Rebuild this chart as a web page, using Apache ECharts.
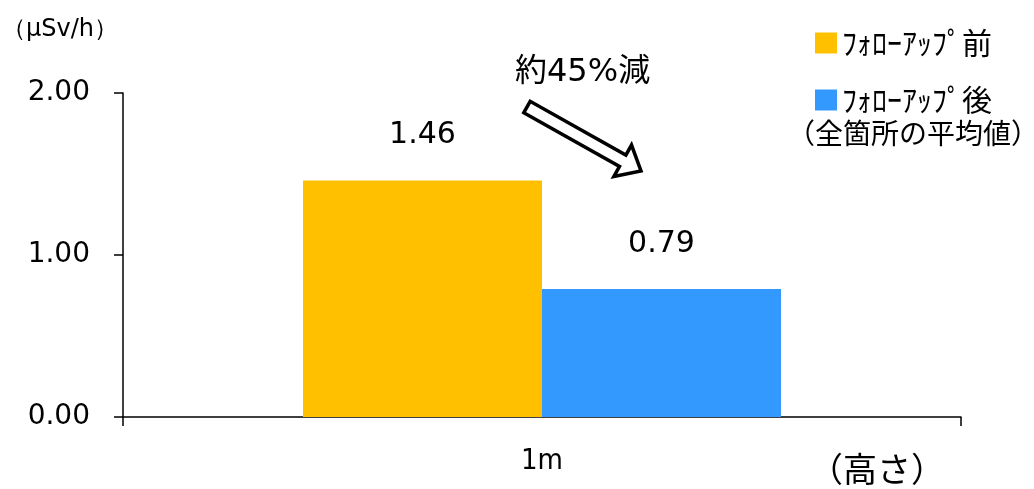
<!DOCTYPE html>
<html>
<head>
<meta charset="utf-8">
<script src="https://cdn.jsdelivr.net/npm/echarts@6/dist/echarts.min.js"></script>
<style>
html,body{margin:0;padding:0;background:#fff;}
#chart{width:1034px;height:489px;}
</style>
</head>
<body>
<div id="chart"></div>
<script>
const categories = ['1m'];
const seriesNames = ['ﾌｫﾛｰｱｯﾌﾟ前', 'ﾌｫﾛｰｱｯﾌﾟ後'];
const beforeValues = [1.46];
const afterValues = [0.79];
const yTicks = [0, 1, 2];

const chart = echarts.init(document.getElementById('chart'));
const numFont = '"DejaVu Sans", Verdana, sans-serif';
const jpFont = '"Noto Sans CJK JP", sans-serif';
const mixFont = '"DejaVu Sans", "Noto Sans CJK JP", sans-serif';
const narrowFont = '"Liberation Sans Narrow", "DejaVu Sans Condensed", sans-serif';

function arrowPoints(s, e, w, hw, hl) {
  const dx = e[0] - s[0], dy = e[1] - s[1];
  const len = Math.sqrt(dx * dx + dy * dy);
  const ux = dx / len, uy = dy / len;
  const nx = -uy, ny = ux;
  const neck = [e[0] - ux * hl, e[1] - uy * hl];
  return [
    [s[0] + nx * w, s[1] + ny * w],
    [neck[0] + nx * w, neck[1] + ny * w],
    [neck[0] + nx * hw, neck[1] + ny * hw],
    [e[0], e[1]],
    [neck[0] - nx * hw, neck[1] - ny * hw],
    [neck[0] - nx * w, neck[1] - ny * w],
    [s[0] - nx * w, s[1] - ny * w]
  ];
}

const option = {
  animation: false,
  backgroundColor: '#fff',
  grid: { left: 123, right: 73, top: 93, bottom: 72 },
  legend: {
    orient: 'vertical',
    left: 815, top: 28, padding: 0,
    itemWidth: 22, itemHeight: 21, itemGap: 27,
    icon: 'rect',
    textStyle: { fontFamily: jpFont, fontSize: 30, color: '#000', padding: [0, 0, 0, 0] },
    data: seriesNames
  },
  xAxis: {
    type: 'category',
    data: categories,
    axisLine: { lineStyle: { color: '#000', width: 1.5 } },
    axisTick: { show: true, length: 9, lineStyle: { color: '#000', width: 1.5 } },
    axisLabel: { margin: 30, fontFamily: narrowFont, fontSize: 29, color: '#000' }
  },
  yAxis: {
    type: 'value',
    min: 0, max: 2, interval: 1,
    axisLine: { show: true, lineStyle: { color: '#000', width: 1.5 } },
    axisTick: { show: true, length: 9, lineStyle: { color: '#000', width: 1.5 } },
    splitLine: { show: false },
    axisLabel: {
      margin: 33, fontFamily: numFont, fontSize: 28, color: '#000',
      formatter: v => yTicks.indexOf(v) >= 0 ? v.toFixed(2) : ''
    }
  },
  series: [
    {
      name: seriesNames[0], type: 'bar', data: beforeValues,
      barWidth: 239, barGap: '0%',
      itemStyle: { color: '#FFC000' },
      label: { show: true, position: 'top', distance: 30, fontFamily: numFont, fontSize: 30, color: '#000', formatter: p => p.value.toFixed(2) }
    },
    {
      name: seriesNames[1], type: 'bar', data: afterValues,
      barWidth: 239, barGap: '0%',
      itemStyle: { color: '#3399FF' },
      label: { show: true, position: 'top', distance: 30, fontFamily: numFont, fontSize: 30, color: '#000', formatter: p => p.value.toFixed(2) }
    }
  ],
  graphic: [
    { type: 'text', left: 2, top: 18, style: { text: '（μSv/h）', font: '24px ' + numFont, fill: '#000' } },
    { type: 'text', left: 787, top: 119, style: { text: '（全箇所の平均値）', font: '28px ' + jpFont, fill: '#000' } },
    { type: 'text', left: 809, top: 452, style: { text: '（高さ）', font: '34px ' + jpFont, fill: '#000' } },
    { type: 'text', left: 515, top: 57, style: { text: '約45%減', font: '32px ' + mixFont, fill: '#000' } },
    {
      type: 'polygon',
      shape: { points: arrowPoints([527, 107], [641, 171], 6.5, 18, 21) },
      style: { fill: '#fff', stroke: '#000', lineWidth: 3.5, lineJoin: 'miter' }
    }
  ]
};
chart.setOption(option);
</script>
</body>
</html>
